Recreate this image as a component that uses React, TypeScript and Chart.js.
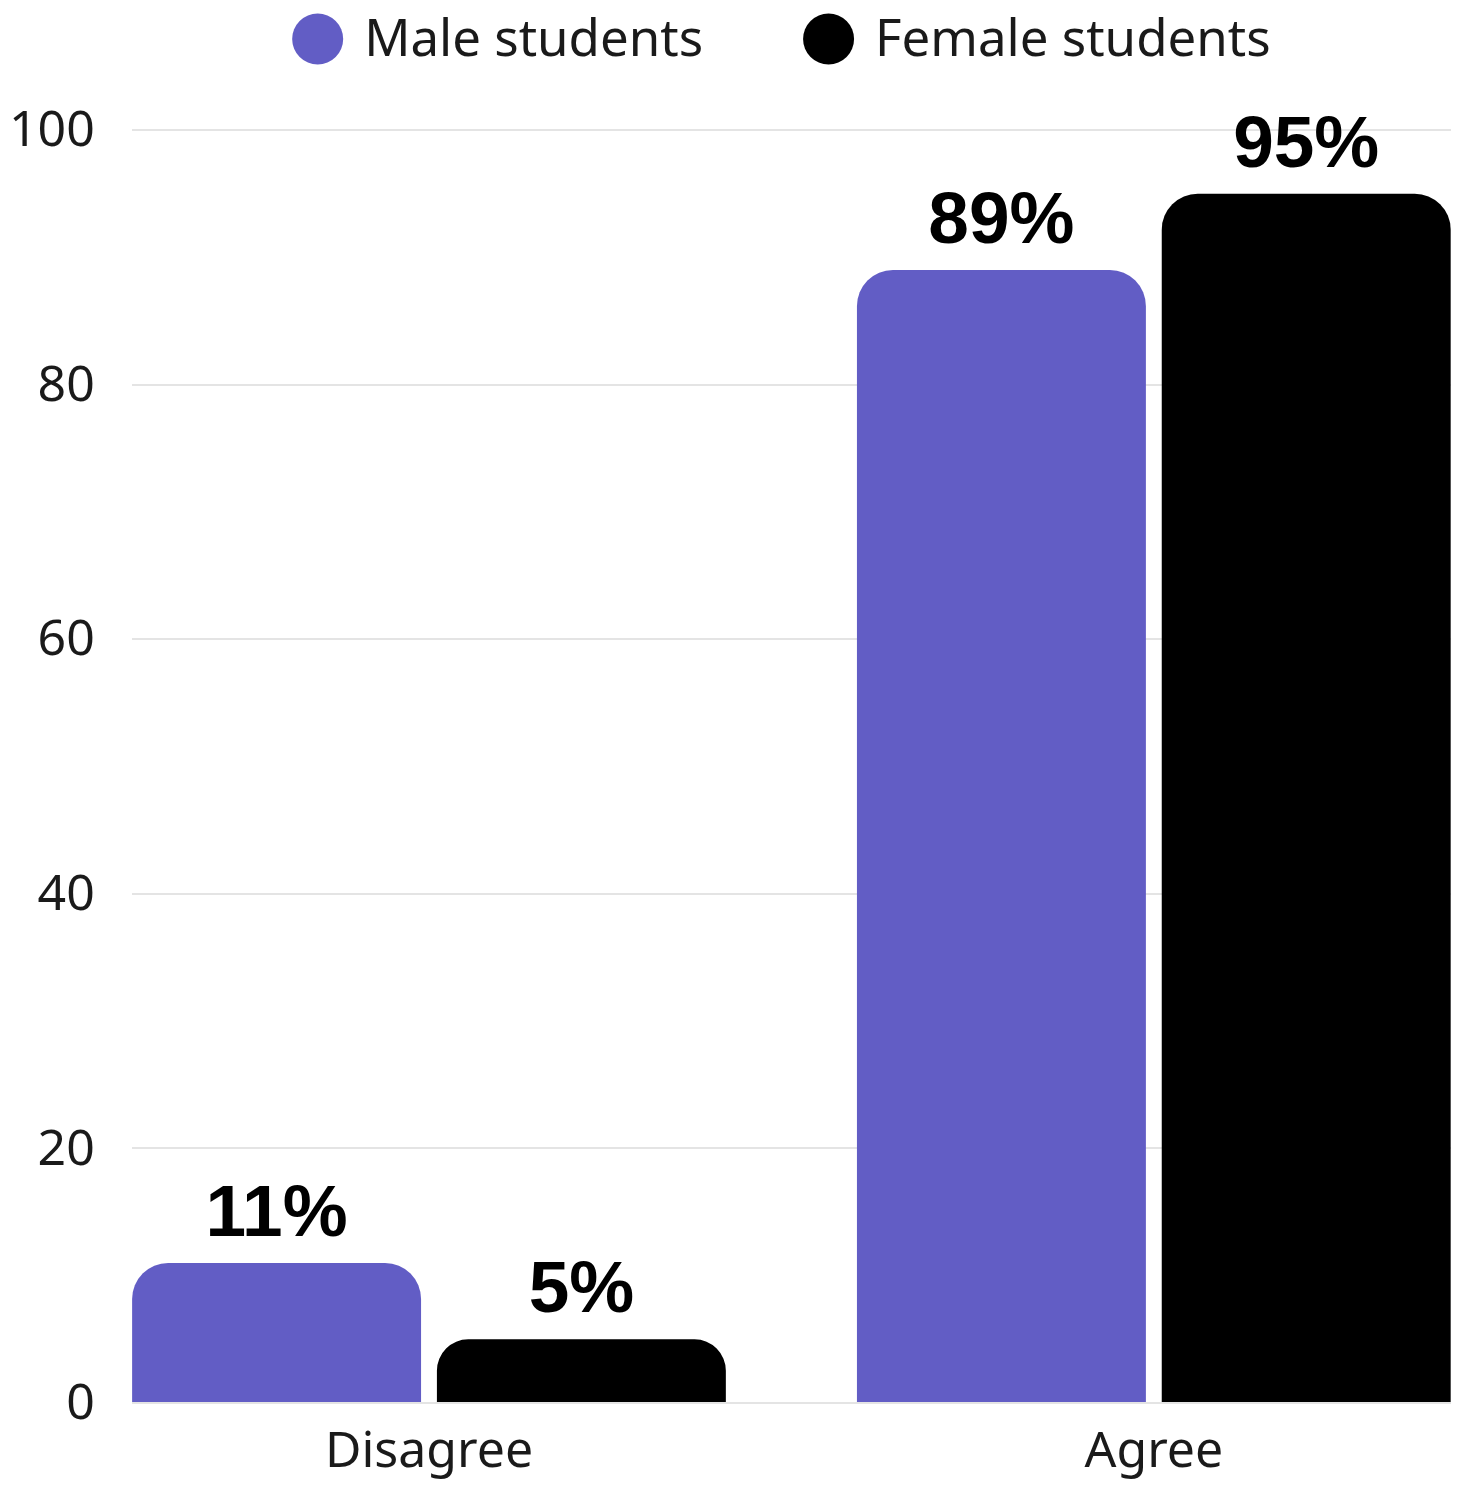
import { useEffect, useRef } from 'react';
import { Chart, registerables } from 'chart.js';

Chart.register(...registerables);

// Survey answers by gender (percent of respondents)
const categories = ['Disagree', 'Agree'];
const maleStudents = [11, 89];
const femaleStudents = [5, 95];
const seriesNames = ['Male students', 'Female students'];
const seriesColors = ['#625DC5', '#000000'];
const yTickValues = [0, 20, 40, 60, 80, 100];

const UI_FONT = '"Noto Sans", sans-serif';
const VALUE_FONT = '"Liberation Sans", Arial, sans-serif';

// Percent labels drawn above every bar
const valueLabels = {
  id: 'valueLabels',
  afterDatasetsDraw(chart: any) {
    const { ctx } = chart;
    ctx.save();
    ctx.font = `bold 73px ${VALUE_FONT}`;
    ctx.fillStyle = '#000000';
    ctx.textAlign = 'center';
    ctx.textBaseline = 'alphabetic';
    chart.data.datasets.forEach((ds: any, di: number) => {
      const meta = chart.getDatasetMeta(di);
      meta.data.forEach((bar: any, i: number) => {
        const v = ds.data[i].y;
        ctx.fillText(`${v}%`, bar.x, bar.y - 27);
      });
    });
    ctx.restore();
  },
};

// Single-row legend with round swatches above the plot
const legendRow = {
  id: 'legendRow',
  afterDraw(chart: any) {
    const { ctx, chartArea } = chart;
    const r = 25.5;
    const textGap = 21;
    const itemGap = 100;
    const cy = 39;
    ctx.save();
    ctx.font = `51px ${UI_FONT}`;
    ctx.textBaseline = 'middle';
    ctx.textAlign = 'left';
    const items = chart.data.datasets.map((ds: any) => ({
      text: ds.label as string,
      color: ds.backgroundColor as string,
      w: ctx.measureText(ds.label).width,
    }));
    const total =
      items.reduce((s: number, it: any) => s + 2 * r + textGap + it.w, 0) +
      itemGap * (items.length - 1);
    let x = (chartArea.left + chartArea.right) / 2 - total / 2 - 10;
    items.forEach((it: any) => {
      ctx.beginPath();
      ctx.arc(x + r, cy, r, 0, Math.PI * 2);
      ctx.fillStyle = it.color;
      ctx.fill();
      ctx.fillStyle = '#1a1a1a';
      ctx.fillText(it.text, x + 2 * r + textGap, cy + 2);
      x += 2 * r + textGap + it.w + itemGap;
    });
    ctx.restore();
  },
};

export default function App() {
  const canvasRef = useRef<HTMLCanvasElement | null>(null);

  useEffect(() => {
    const canvas = canvasRef.current;
    if (!canvas) return;

    const toPoints = (values: number[]) => values.map((v, i) => ({ x: i, y: v }));

    const chart = new Chart(canvas, {
      type: 'bar',
      data: {
        datasets: [
          {
            label: seriesNames[0],
            data: toPoints(maleStudents),
            backgroundColor: seriesColors[0],
            borderRadius: 36,
            categoryPercentage: 0.841,
            barPercentage: 0.948,
          },
          {
            label: seriesNames[1],
            data: toPoints(femaleStudents),
            backgroundColor: seriesColors[1],
            borderRadius: 36,
            categoryPercentage: 0.841,
            barPercentage: 0.948,
          },
        ],
      },
      options: {
        responsive: false,
        animation: false,
        devicePixelRatio: 1,
        layout: { padding: { top: 130, left: -28, right: 9, bottom: -12 } },
        plugins: {
          legend: { display: false },
          tooltip: { enabled: false },
        },
        scales: {
          x: {
            type: 'linear',
            offset: false,
            min: -0.41,
            max: 1.41,
            afterBuildTicks: (scale: any) => {
              scale.ticks = categories.map((_, i) => ({ value: i }));
            },
            grid: { display: false, drawTicks: false },
            border: { display: false },
            ticks: {
              padding: 20,
              color: '#1a1a1a',
              font: { family: UI_FONT, size: 50 },
              callback: (value: any) => categories[Math.round(Number(value))] ?? '',
            },
          },
          y: {
            min: 0,
            max: 100,
            afterBuildTicks: (scale: any) => {
              scale.ticks = yTickValues.map((v) => ({ value: v }));
            },
            grid: { color: '#e4e4e4', lineWidth: 2, drawTicks: false },
            border: { display: false },
            ticks: {
              padding: 37,
              labelOffset: 2,
              color: '#1a1a1a',
              font: { family: UI_FONT, size: 50 },
            },
          },
        },
      },
      plugins: [valueLabels, legendRow],
    });

    return () => {
      chart.destroy();
    };
  }, []);

  return (
    <div style={{ position: 'absolute', left: 0, top: 0, width: 1460, height: 1491, background: '#ffffff' }}>
      <canvas ref={canvasRef} width={1460} height={1491} style={{ display: 'block' }} />
    </div>
  );
}
